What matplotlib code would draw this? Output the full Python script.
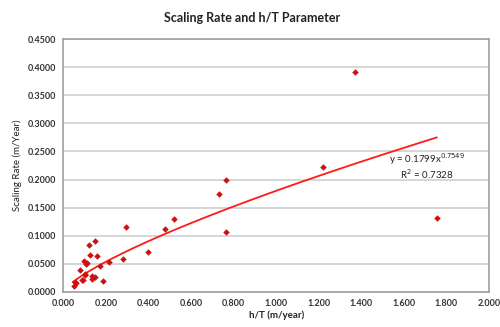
import numpy as np
import matplotlib
matplotlib.use("Agg")
import matplotlib.pyplot as plt

# Data
ht = [0.294, 0.119, 0.147, 0.125, 0.160, 0.099, 0.110, 0.216, 0.282, 0.174,
      0.078, 0.103, 0.136, 0.149, 0.133, 0.091, 0.185, 0.061, 0.050, 0.086,
      0.055, 0.102, 0.108,
      0.731, 0.763, 0.521, 0.479, 0.763, 0.399, 1.370, 1.754, 1.218]
rate = [0.116, 0.083, 0.090, 0.065, 0.064, 0.054, 0.051, 0.053, 0.058, 0.045,
        0.039, 0.032, 0.028, 0.027, 0.023, 0.021, 0.019, 0.016, 0.011, 0.021,
        0.018, 0.030, 0.049,
        0.174, 0.199, 0.130, 0.111, 0.106, 0.070, 0.392, 0.131, 0.222]
fit_a = 0.1799
fit_b = 0.7549
r2 = 0.7328
x_ticks = [0.0, 0.2, 0.4, 0.6, 0.8, 1.0, 1.2, 1.4, 1.6, 1.8, 2.0]
y_ticks = [0.0, 0.05, 0.10, 0.15, 0.20, 0.25, 0.30, 0.35, 0.40, 0.45]

plt.rcParams['font.family'] = ['Lato', 'DejaVu Sans']

fig = plt.figure(figsize=(5.0, 3.27), dpi=100)
ax = fig.add_axes([63.3/500, 1-291.7/327, (489-63.3)/500, (291.7-39.3)/327])

ax.set_xlim(0, 2.0)
ax.set_ylim(0, 0.45)
ax.set_xticks(x_ticks)
ax.set_yticks(y_ticks)
ax.set_xticklabels([f"{v:.3f}" for v in x_ticks])
ax.set_yticklabels([f"{v:.4f}" for v in y_ticks])
ax.tick_params(axis='both', length=0, labelsize=6.5, colors='#333333', pad=5)
for lab in ax.get_xticklabels() + ax.get_yticklabels():
    lab.set_fontweight('bold')

ax.grid(axis='y', color='#d0d0d0', linewidth=1.2)
ax.set_axisbelow(True)
for s in ax.spines.values():
    s.set_color('#a0a0a0')
    s.set_linewidth(1.2)

xf = np.linspace(min(ht) - 0.005, max(ht), 200)
ax.plot(xf, fit_a * xf ** fit_b, color='#ff1a1a', linewidth=1.3, zorder=3)
ax.scatter(ht, rate, marker='D', s=11, color='#cc1111', zorder=4, linewidths=0)

ax.text(1.71, 0.236, r"y = 0.1799x$^{0.7549}$", fontsize=7, ha='center', va='center', color='#222222')
ax.text(1.71, 0.209, r"R$^{2}$ = 0.7328", fontsize=7, ha='center', va='center', color='#222222')

fig.text(0.504, 1-18/327, "Scaling Rate and h/T Parameter", ha='center', va='center',
         fontsize=9, fontweight='bold', color='#222222')
ax.set_xlabel("h/T (m/year)", fontsize=7, fontweight='bold', color='#222222', labelpad=2)
ax.set_ylabel("Scaling Rate (m/Year)", fontsize=7, color='#222222', labelpad=4)

fig.savefig("out.png", dpi=100)
